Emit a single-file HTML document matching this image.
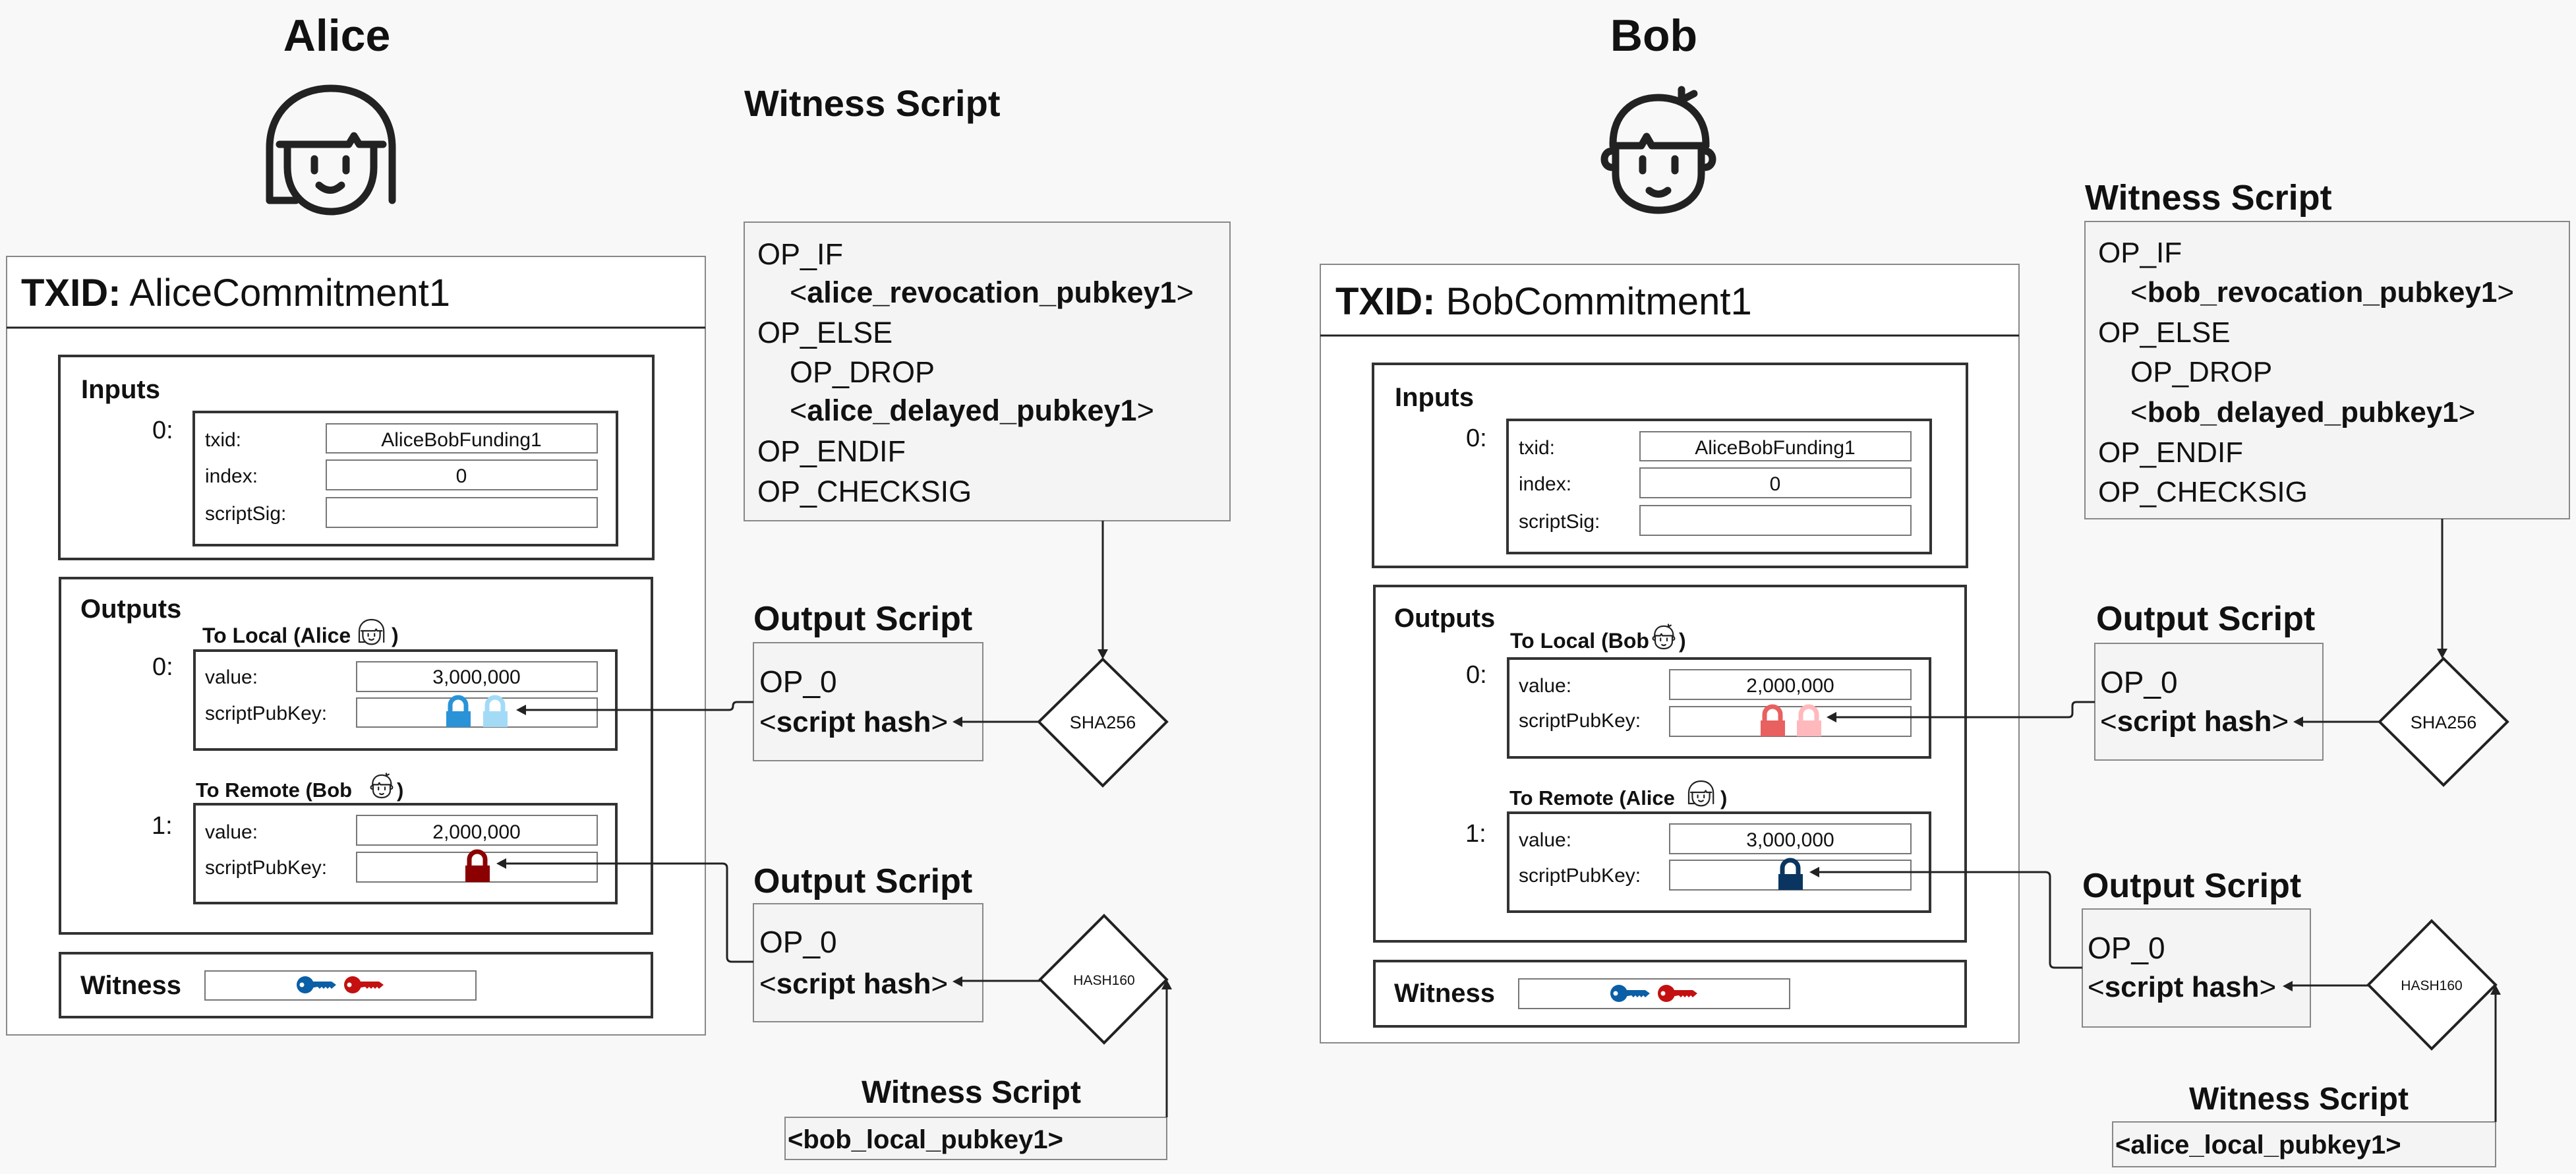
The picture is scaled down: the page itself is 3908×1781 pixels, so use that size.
<!DOCTYPE html>
<html><head><meta charset="utf-8"><style>
html,body{margin:0;padding:0;background:#f8f8f8;}
svg{display:block;}
text{font-family:"Liberation Sans",sans-serif;fill:#111;}
.b{font-weight:bold;}
</style></head><body>
<svg width="3908" height="1781" viewBox="0 0 3908 1781" xmlns="http://www.w3.org/2000/svg">
<defs>
<g id="alice" fill="none" stroke="#222" stroke-width="11" stroke-linecap="round" stroke-linejoin="round">
<path d="M0 170 V90 C0 35 40 0 93 0 C146 0 186 35 186 90 V170"/>
<path d="M0 170 H40"/>
<path d="M15 85 H120 L128 72 L136 85 H172"/>
<path d="M27 85 V120 C27 160 55 187 93 187 C131 187 158 160 158 120 V85"/>
<path d="M68 107 V125 M116 107 V125"/>
<path d="M75 147 Q92 162 109 147"/>
</g>
<g id="bob" fill="none" stroke="#222" stroke-width="11" stroke-linecap="round" stroke-linejoin="round">
<path d="M21 84 C21 40 50 14 90 14 C130 14 162 40 162 84"/>
<path d="M125 14 V2 M125 18 L144 8"/>
<path d="M21 87 H64 L72 73 L80 87 H162"/>
<path d="M25 87 V130 C25 165 55 185 90 185 C125 185 155 165 155 130 V87"/>
<path d="M20 95 C4 95 4 120 20 120 M160 95 C176 95 176 120 160 120"/>
<path d="M66 107 V125 M115 107 V125"/>
<path d="M76 155 Q90 166 104 155"/>
</g>
<g id="key">
<circle cx="0" cy="0" r="13"/>
<path d="M8 -5 H40 L47 0 L40 6 L37 3 L34 6 L31 3 L28 6 L25 3 L22 6 L19 3 L8 5 Z"/>
<circle cx="-5" cy="0" r="3.5" fill="#fff"/>
</g>
</defs>

<!-- ================= ALICE ================= -->
<text x="511" y="77" font-size="68" class="b" text-anchor="middle">Alice</text>
<use href="#alice" x="409" y="134"/>

<rect x="10" y="389" width="1060" height="1181" fill="#fff" stroke="#888" stroke-width="2"/>
<line x1="10" y1="497" x2="1070" y2="497" stroke="#222" stroke-width="3"/>
<text x="32" y="464" font-size="58"><tspan class="b">TXID:</tspan> AliceCommitment1</text>

<rect x="90" y="540" width="901" height="308" fill="#fff" stroke="#333" stroke-width="4"/>
<text x="123" y="604" font-size="40" class="b">Inputs</text>
<text x="231" y="665" font-size="38">0:</text>
<rect x="294" y="625" width="642" height="202" fill="#fff" stroke="#333" stroke-width="4"/>
<g font-size="30">
<text x="311" y="677">txid:</text><text x="311" y="732">index:</text><text x="311" y="789">scriptSig:</text>
</g>
<g fill="#fff" stroke="#777" stroke-width="2">
<rect x="495" y="643" width="411" height="44"/><rect x="495" y="698" width="411" height="45"/><rect x="495" y="755" width="411" height="45"/>
</g>
<text x="700" y="677" font-size="30" text-anchor="middle">AliceBobFunding1</text>
<text x="700" y="732" font-size="30" text-anchor="middle">0</text>

<rect x="91" y="877" width="898" height="539" fill="#fff" stroke="#333" stroke-width="4"/>
<text x="122" y="937" font-size="40" class="b">Outputs</text>
<text x="307" y="975" font-size="32" class="b">To Local (Alice</text>
<use href="#alice" transform="translate(545,940) scale(0.2)"/>
<text x="594" y="975" font-size="32" class="b">)</text>
<text x="231" y="1024" font-size="38">0:</text>
<rect x="295" y="987" width="640" height="150" fill="#fff" stroke="#333" stroke-width="4"/>
<text x="311" y="1037" font-size="30">value:</text>
<text x="311" y="1092" font-size="30">scriptPubKey:</text>
<rect x="541" y="1004" width="365" height="45" fill="#fff" stroke="#777" stroke-width="2"/>
<rect x="541" y="1059" width="365" height="44" fill="#fff" stroke="#777" stroke-width="2"/>
<text x="723" y="1037" font-size="30" text-anchor="middle">3,000,000</text>
<path d="M683 1079 V1070 A12 12 0 0 1 707 1070 V1079" fill="none" stroke="#2a93d8" stroke-width="7"/>
<rect x="677" y="1079" width="37" height="24" fill="#2a93d8"/>
<path d="M739 1079 V1070 A12 12 0 0 1 763 1070 V1079" fill="none" stroke="#a3dbf7" stroke-width="7"/>
<rect x="733" y="1079" width="37" height="24" fill="#a3dbf7"/>

<text x="297" y="1209" font-size="31" class="b">To Remote (Bob</text>
<use href="#bob" transform="translate(561,1173) scale(0.2)"/>
<text x="602" y="1209" font-size="31" class="b">)</text>
<text x="230" y="1265" font-size="38">1:</text>
<rect x="295" y="1220" width="640" height="150" fill="#fff" stroke="#333" stroke-width="4"/>
<text x="311" y="1272" font-size="30">value:</text>
<text x="311" y="1326" font-size="30">scriptPubKey:</text>
<rect x="541" y="1237" width="365" height="45" fill="#fff" stroke="#777" stroke-width="2"/>
<rect x="541" y="1293" width="365" height="45" fill="#fff" stroke="#777" stroke-width="2"/>
<text x="723" y="1272" font-size="30" text-anchor="middle">2,000,000</text>
<path d="M712 1313 V1304 A12 12 0 0 1 736 1304 V1313" fill="none" stroke="#8b0000" stroke-width="7"/>
<rect x="706" y="1313" width="37" height="25" fill="#8b0000"/>

<rect x="91" y="1446" width="898" height="97" fill="#fff" stroke="#333" stroke-width="4"/>
<text x="122" y="1508" font-size="40" class="b">Witness</text>
<rect x="311" y="1473" width="411" height="44" fill="#fff" stroke="#777" stroke-width="2"/>
<use href="#key" x="463" y="1494" fill="#0a5fa6"/>
<use href="#key" x="535" y="1494" fill="#c41010"/>

<!-- Alice witness script -->
<text x="1129" y="176" font-size="56" class="b">Witness Script</text>
<rect x="1129" y="337" width="737" height="453" fill="#f4f4f4" stroke="#888" stroke-width="2"/>
<g font-size="45">
<text x="1149" y="401">OP_IF</text>
<text x="1198" y="459">&lt;<tspan class="b">alice_revocation_pubkey1</tspan>&gt;</text>
<text x="1149" y="520">OP_ELSE</text>
<text x="1198" y="580">OP_DROP</text>
<text x="1198" y="638">&lt;<tspan class="b">alice_delayed_pubkey1</tspan>&gt;</text>
<text x="1149" y="700">OP_ENDIF</text>
<text x="1149" y="761">OP_CHECKSIG</text>
</g>

<text x="1143" y="956" font-size="52" class="b">Output Script</text>
<rect x="1143" y="975" width="348" height="179" fill="#f4f4f4" stroke="#888" stroke-width="2"/>
<text x="1152" y="1050" font-size="46">OP_0</text>
<text x="1152" y="1110" font-size="44">&lt;<tspan class="b">script hash</tspan>&gt;</text>
<polygon points="1673,1000 1770,1095 1673,1192 1576,1095" fill="#fff" stroke="#222" stroke-width="4"/>
<text x="1673" y="1105" font-size="27" text-anchor="middle">SHA256</text>

<text x="1143" y="1354" font-size="52" class="b">Output Script</text>
<rect x="1143" y="1371" width="348" height="179" fill="#f4f4f4" stroke="#888" stroke-width="2"/>
<text x="1152" y="1445" font-size="46">OP_0</text>
<text x="1152" y="1507" font-size="44">&lt;<tspan class="b">script hash</tspan>&gt;</text>
<polygon points="1675,1389 1770,1486 1675,1582 1578,1486" fill="#fff" stroke="#222" stroke-width="4"/>
<text x="1675" y="1494" font-size="21" text-anchor="middle">HASH160</text>

<text x="1307" y="1673" font-size="48" class="b">Witness Script</text>
<rect x="1191" y="1695" width="579" height="64" fill="#f4f4f4" stroke="#888" stroke-width="2"/>
<text x="1195" y="1742" font-size="40" class="b">&lt;bob_local_pubkey1&gt;</text>

<g fill="none" stroke="#222" stroke-width="3">
<path d="M1673 790 V988"/>
<path d="M1576 1095 H1458"/>
<path d="M1578 1488 H1458"/>
<path d="M1770 1695 V1500"/>
<path d="M1143 1065 H1118 Q1112 1065 1112 1071 V1071 Q1112 1077 1106 1077 H795"/>
<path d="M1143 1459 H1110 Q1103 1459 1103 1452 V1317 Q1103 1310 1096 1310 H765"/>
</g>
<g fill="#222">
<polygon points="1673,1000 1665,985 1681,985"/>
<polygon points="1445,1095 1460,1087 1460,1103"/>
<polygon points="1445,1489 1460,1481 1460,1497"/>
<polygon points="1770,1486 1762,1501 1778,1501"/>
<polygon points="783,1077 798,1069 798,1085"/>
<polygon points="753,1310 768,1302 768,1318"/>
</g>

<!-- ================= BOB ================= -->
<text x="2509" y="77" font-size="68" class="b" text-anchor="middle">Bob</text>
<use href="#bob" x="2426" y="134"/>

<rect x="2003" y="401" width="1060" height="1181" fill="#fff" stroke="#888" stroke-width="2"/>
<line x1="2003" y1="509" x2="3063" y2="509" stroke="#222" stroke-width="3"/>
<text x="2026" y="477" font-size="58"><tspan class="b">TXID:</tspan> BobCommitment1</text>

<rect x="2083" y="552" width="901" height="308" fill="#fff" stroke="#333" stroke-width="4"/>
<text x="2116" y="616" font-size="40" class="b">Inputs</text>
<text x="2224" y="677" font-size="38">0:</text>
<rect x="2287" y="637" width="642" height="202" fill="#fff" stroke="#333" stroke-width="4"/>
<g font-size="30">
<text x="2304" y="689">txid:</text><text x="2304" y="744">index:</text><text x="2304" y="801">scriptSig:</text>
</g>
<g fill="#fff" stroke="#777" stroke-width="2">
<rect x="2488" y="655" width="411" height="44"/><rect x="2488" y="710" width="411" height="45"/><rect x="2488" y="767" width="411" height="45"/>
</g>
<text x="2693" y="689" font-size="30" text-anchor="middle">AliceBobFunding1</text>
<text x="2693" y="744" font-size="30" text-anchor="middle">0</text>

<rect x="2085" y="889" width="897" height="539" fill="#fff" stroke="#333" stroke-width="4"/>
<text x="2115" y="951" font-size="40" class="b">Outputs</text>
<text x="2291" y="983" font-size="32" class="b">To Local (Bob</text>
<use href="#bob" transform="translate(2506,947) scale(0.2)"/>
<text x="2547" y="983" font-size="32" class="b">)</text>
<text x="2224" y="1036" font-size="38">0:</text>
<rect x="2288" y="999" width="640" height="150" fill="#fff" stroke="#333" stroke-width="4"/>
<text x="2304" y="1050" font-size="30">value:</text>
<text x="2304" y="1103" font-size="30">scriptPubKey:</text>
<rect x="2533" y="1016" width="366" height="45" fill="#fff" stroke="#777" stroke-width="2"/>
<rect x="2533" y="1072" width="366" height="45" fill="#fff" stroke="#777" stroke-width="2"/>
<text x="2716" y="1050" font-size="30" text-anchor="middle">2,000,000</text>
<path d="M2677 1093 V1084 A12 12 0 0 1 2701 1084 V1093" fill="none" stroke="#e86060" stroke-width="7"/>
<rect x="2671" y="1093" width="37" height="24" fill="#e86060"/>
<path d="M2732 1093 V1084 A12 12 0 0 1 2756 1084 V1093" fill="none" stroke="#ffb8bc" stroke-width="7"/>
<rect x="2726" y="1093" width="37" height="24" fill="#ffb8bc"/>

<text x="2290" y="1221" font-size="31" class="b">To Remote (Alice</text>
<use href="#alice" transform="translate(2562,1185) scale(0.2)"/>
<text x="2610" y="1221" font-size="31" class="b">)</text>
<text x="2223" y="1277" font-size="38">1:</text>
<rect x="2288" y="1233" width="640" height="150" fill="#fff" stroke="#333" stroke-width="4"/>
<text x="2304" y="1284" font-size="30">value:</text>
<text x="2304" y="1338" font-size="30">scriptPubKey:</text>
<rect x="2533" y="1250" width="366" height="45" fill="#fff" stroke="#777" stroke-width="2"/>
<rect x="2533" y="1305" width="366" height="45" fill="#fff" stroke="#777" stroke-width="2"/>
<text x="2716" y="1284" font-size="30" text-anchor="middle">3,000,000</text>
<path d="M2704 1326 V1317 A12 12 0 0 1 2728 1317 V1326" fill="none" stroke="#0a3560" stroke-width="7"/>
<rect x="2698" y="1326" width="37" height="24" fill="#0a3560"/>

<rect x="2085" y="1458" width="897" height="99" fill="#fff" stroke="#333" stroke-width="4"/>
<text x="2115" y="1520" font-size="40" class="b">Witness</text>
<rect x="2304" y="1485" width="411" height="45" fill="#fff" stroke="#777" stroke-width="2"/>
<use href="#key" x="2456" y="1507" fill="#0a5fa6"/>
<use href="#key" x="2528" y="1507" fill="#c41010"/>

<!-- Bob witness script -->
<text x="3163" y="318" font-size="54" class="b">Witness Script</text>
<rect x="3163" y="336" width="735" height="451" fill="#f4f4f4" stroke="#888" stroke-width="2"/>
<g font-size="44">
<text x="3183" y="398">OP_IF</text>
<text x="3232" y="458">&lt;<tspan class="b">bob_revocation_pubkey1</tspan>&gt;</text>
<text x="3183" y="519">OP_ELSE</text>
<text x="3232" y="579">OP_DROP</text>
<text x="3232" y="640">&lt;<tspan class="b">bob_delayed_pubkey1</tspan>&gt;</text>
<text x="3183" y="701">OP_ENDIF</text>
<text x="3183" y="761">OP_CHECKSIG</text>
</g>

<text x="3180" y="956" font-size="52" class="b">Output Script</text>
<rect x="3178" y="976" width="346" height="177" fill="#f4f4f4" stroke="#888" stroke-width="2"/>
<text x="3186" y="1051" font-size="46">OP_0</text>
<text x="3186" y="1109" font-size="44">&lt;<tspan class="b">script hash</tspan>&gt;</text>
<polygon points="3707,999 3804,1095 3707,1191 3610,1095" fill="#fff" stroke="#222" stroke-width="4"/>
<text x="3707" y="1105" font-size="27" text-anchor="middle">SHA256</text>

<text x="3159" y="1361" font-size="52" class="b">Output Script</text>
<rect x="3159" y="1379" width="346" height="179" fill="#f4f4f4" stroke="#888" stroke-width="2"/>
<text x="3167" y="1454" font-size="46">OP_0</text>
<text x="3167" y="1512" font-size="44">&lt;<tspan class="b">script hash</tspan>&gt;</text>
<polygon points="3689,1397 3786,1494 3689,1591 3593,1494" fill="#fff" stroke="#222" stroke-width="4"/>
<text x="3689" y="1502" font-size="21" text-anchor="middle">HASH160</text>

<text x="3321" y="1683" font-size="48" class="b">Witness Script</text>
<rect x="3205" y="1702" width="581" height="68" fill="#f4f4f4" stroke="#888" stroke-width="2"/>
<text x="3209" y="1750" font-size="40" class="b">&lt;alice_local_pubkey1&gt;</text>

<g fill="none" stroke="#222" stroke-width="3">
<path d="M3705 787 V987"/>
<path d="M3610 1095 H3492"/>
<path d="M3593 1495 H3476"/>
<path d="M3786 1702 V1508"/>
<path d="M3178 1065 H3150 Q3144 1065 3144 1071 V1082 Q3144 1088 3138 1088 H2783"/>
<path d="M3159 1468 H3117 Q3110 1468 3110 1461 V1330 Q3110 1323 3103 1323 H2757"/>
</g>
<g fill="#222">
<polygon points="3705,999 3697,984 3713,984"/>
<polygon points="3479,1095 3494,1087 3494,1103"/>
<polygon points="3463,1496 3478,1488 3478,1504"/>
<polygon points="3786,1494 3778,1509 3794,1509"/>
<polygon points="2771,1088 2786,1080 2786,1096"/>
<polygon points="2745,1323 2760,1315 2760,1331"/>
</g>
</svg>
</body></html>
